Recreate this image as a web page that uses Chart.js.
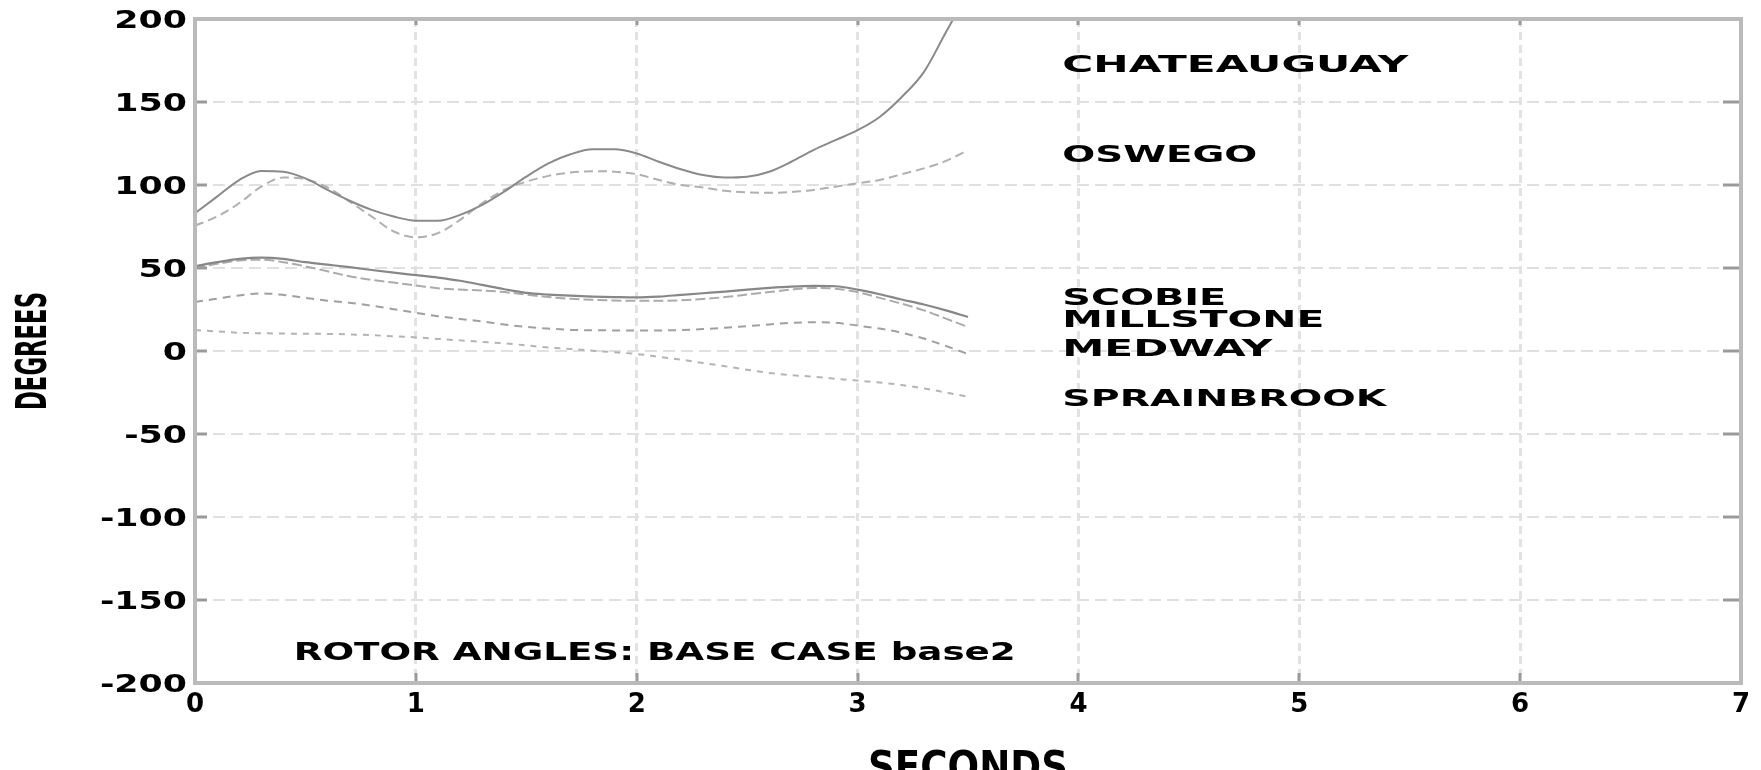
<!DOCTYPE html>
<html><head><meta charset="utf-8">
<script src="https://cdn.jsdelivr.net/npm/chart.js@4/dist/chart.umd.min.js"></script>
<style>html,body{margin:0;padding:0;background:#fff;overflow:hidden}</style>
</head><body>
<canvas id="c" width="1761" height="770" style="width:1761px;height:770px;display:block"></canvas>
<script>
// ---- data ----
const times = [0,0.1,0.2,0.3,0.4,0.5,0.6,0.7,0.8,0.9,1.0,1.1,1.2,1.3,1.4,1.5,1.6,1.7,1.8,1.9,2.0,2.1,2.2,2.3,2.4,2.5,2.6,2.7,2.8,2.9,3.0,3.1,3.2,3.3,3.4,3.5];
const chateauguay = [83,93,103,108.5,108,104,97,90.5,85,81,78.5,78.5,82,88,96,105,113,118.5,121.5,121.5,119,114,109.5,106,104.5,105,108,114,121,127,133,141,153,168,192,216];
const oswego = [75.5,81,89,99,104.5,103.5,98.5,90,81,72,68.5,71,79,89,97,102,105.5,107.5,108.3,108,106.5,103,100,98.5,96.5,95.5,95.3,95.8,97,99,101,103,106.5,110,114.5,121];
const scobie = [51,53.5,55.5,56.3,55.5,53.5,52,50.5,48.8,47.2,45.7,44.2,42.3,39.8,37.2,35,34,33.3,32.8,32.5,32.3,32.8,33.8,34.8,35.8,37,38,38.8,39.2,39,37,34.2,31,28,24.5,20.5];
const millstone = [50,52.5,54.5,55,53.5,51,48,45,42.8,41.2,39.5,37.8,37,36.5,35.5,34,32.5,31.5,30.8,30.4,30.2,30.2,30.5,31.3,32.5,34,35.5,37,38,37.5,35.5,32,28.5,24.5,19.5,14.5];
const medway = [29.5,31.5,33.5,34.7,33.8,32,30.3,29,27.3,25.2,23,21,19.3,17.8,16,14.5,13.5,12.7,12.5,12.4,12.3,12.4,12.6,13.2,14,15,16,17,17.3,17,15.3,13.5,11,7.5,3,-1.8];
const sprainbrook = [12.6,11.8,11,10.7,10.5,10.4,10.3,10,9.5,8.9,8.2,7.3,6.4,5.5,4.6,3.4,2.1,1.2,0.2,-0.8,-1.8,-3.5,-5.2,-7.2,-9.2,-11.3,-13.2,-14.5,-15.5,-16.7,-17.8,-19,-20.5,-22.5,-25,-27.5];
const seriesNames = ["CHATEAUGUAY","OSWEGO","SCOBIE","MILLSTONE","MEDWAY","SPRAINBROOK"];
const xTickValues = [0,1,2,3,4,5,6,7];
const xTickLabels = ["0","1","2","3","4","5","6","7"];
const yTickValues = [200,150,100,50,0,-50,-100,-150,-200];
const yTickLabels = ["200","150","100","50","0","-50","-100","-150","-200"];
const xTitle = "SECONDS";
const yTitle = "DEGREES";
const caption = "ROTOR ANGLES: BASE CASE base2";

// ---- styling / layout ----
const seriesValues = [chateauguay, oswego, scobie, millstone, medway, sprainbrook];
const seriesStyle = [
  {color:'#8a8a8a', dash:[], width:2},
  {color:'#b0b0b0', dash:[9,5], width:2},
  {color:'#878787', dash:[], width:2.2},
  {color:'#ababab', dash:[10,4], width:2},
  {color:'#a0a0a0', dash:[8,6], width:2},
  {color:'#b4b4b4', dash:[6,6], width:2}
];
// label anchors in data coordinates (x seconds, y degrees of the cap-centre)
const labelPos = [
  {x:3.927, y:173.4, w:346},
  {x:3.927, y:119.0, w:195},
  {x:3.927, y:32.5, w:164},
  {x:3.927, y:19.5, w:262},
  {x:3.927, y:2.1, w:210},
  {x:3.927, y:-28.2, w:324}
];
const captionPos = {x:0.447, y:-180.9, w:722};

const FONT = '"DejaVu Sans", "Liberation Sans", sans-serif';
function drawText(ctx, text, x, y, o) {
  const size = o.size;
  ctx.save();
  ctx.font = 'bold ' + size + 'px ' + FONT;
  const w = ctx.measureText(text).width;
  const sx = o.w ? o.w / w : (o.sx || 1);
  ctx.translate(x, y);
  if (o.rot) ctx.rotate(o.rot);
  ctx.scale(sx, o.sy || 1);
  ctx.fillStyle = o.color || '#000';
  ctx.textAlign = o.align || 'left';
  ctx.textBaseline = 'alphabetic';
  const cap = 0.729 * size;
  ctx.fillText(text, 0, o.top ? cap : cap / 2);
  ctx.restore();
}

const decor = {
  id: 'decor',
  afterDatasetsDraw(chart) {
    const ctx = chart.ctx;
    const a = chart.chartArea;
    const xs = chart.scales.x, ys = chart.scales.y;
    ctx.save();
    // tick marks
    ctx.strokeStyle = '#9a9a9a';
    ctx.lineWidth = 3;
    ctx.setLineDash([]);
    yTickValues.forEach(v => {
      const p = Math.round(ys.getPixelForValue(v));
      ctx.beginPath(); ctx.moveTo(a.left, p); ctx.lineTo(a.left + 12, p); ctx.stroke();
      ctx.beginPath(); ctx.moveTo(a.right - 18, p); ctx.lineTo(a.right, p); ctx.stroke();
    });
    xTickValues.forEach(v => {
      const p = Math.round(xs.getPixelForValue(v));
      ctx.beginPath(); ctx.moveTo(p, a.bottom); ctx.lineTo(p, a.bottom - 10); ctx.stroke();
      ctx.beginPath(); ctx.moveTo(p, a.top); ctx.lineTo(p, a.top + 6); ctx.stroke();
    });
    // frame
    ctx.strokeStyle = '#bababa';
    ctx.lineWidth = 4;
    ctx.strokeRect(a.left, a.top, a.right - a.left, a.bottom - a.top);
    ctx.restore();
  },
  afterDraw(chart) {
    const ctx = chart.ctx;
    const a = chart.chartArea;
    const xs = chart.scales.x, ys = chart.scales.y;
    yTickValues.forEach((v, i) => {
      drawText(ctx, yTickLabels[i], a.left - 8, ys.getPixelForValue(v), {size:24, sx:1.45, align:'right'});
    });
    xTickValues.forEach((v, i) => {
      drawText(ctx, xTickLabels[i], xs.getPixelForValue(v), a.bottom + 20, {size:26, sx:1.0, align:'center'});
    });
    seriesNames.forEach((n, i) => {
      const p = labelPos[i];
      drawText(ctx, n, xs.getPixelForValue(p.x), ys.getPixelForValue(p.y), {size:23, w:p.w});
    });
    drawText(ctx, caption, xs.getPixelForValue(captionPos.x), ys.getPixelForValue(captionPos.y), {size:24, w:captionPos.w});
    // axis titles
    drawText(ctx, yTitle, 30.5, (a.top + a.bottom) / 2, {size:42, w:118, align:'center', rot:-Math.PI/2});
    drawText(ctx, xTitle, (a.left + a.right) / 2 - 0, a.bottom + 67, {size:42, w:200, align:'center', top:true});
  }
};

const datasets = seriesNames.map((n, i) => ({
  label: n,
  data: times.map((t, j) => ({x: t, y: seriesValues[i][j]})),
  borderColor: seriesStyle[i].color,
  borderWidth: seriesStyle[i].width,
  borderDash: seriesStyle[i].dash,
  pointRadius: 0,
  fill: false,
  tension: 0.4,
  cubicInterpolationMode: 'monotone'
}));

new Chart(document.getElementById('c'), {
  type: 'line',
  data: { datasets },
  options: {
    responsive: false,
    animation: false,
    devicePixelRatio: 1,
    layout: { padding: { left: 195, right: 20, top: 19, bottom: 87 } },
    plugins: { legend: { display: false }, tooltip: { enabled: false } },
    scales: {
      x: {
        type: 'linear', min: 0, max: 7,
        afterBuildTicks: s => { s.ticks = xTickValues.map(v => ({value: v})); },
        ticks: { display: false },
        grid: { color: '#e2e2e2', lineWidth: 3, drawTicks: false },
        border: { display: false, dash: [8, 5] }
      },
      y: {
        type: 'linear', min: -200, max: 200,
        afterBuildTicks: s => { s.ticks = yTickValues.map(v => ({value: v})); },
        ticks: { display: false },
        grid: { color: '#e0e0e0', lineWidth: 2, drawTicks: false },
        border: { display: false, dash: [12, 6] }
      }
    }
  },
  plugins: [decor]
});
</script>
</body></html>
